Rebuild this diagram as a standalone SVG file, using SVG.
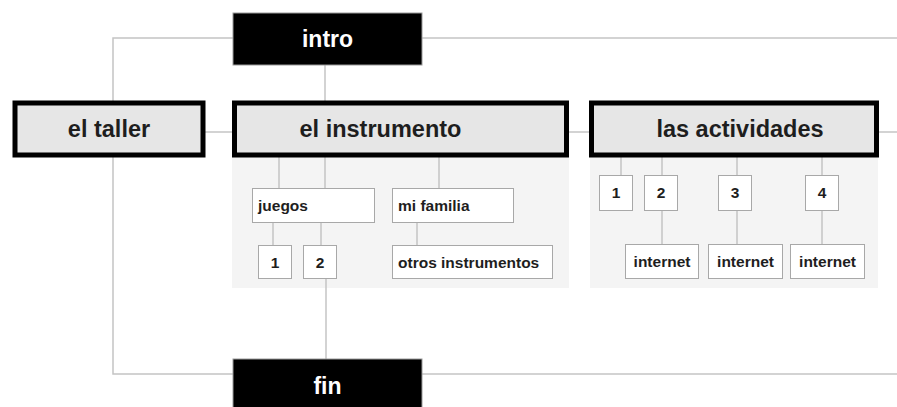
<svg xmlns="http://www.w3.org/2000/svg" width="897" height="407" viewBox="0 0 897 407">
<style>
.ln{stroke:#c4c4c4;stroke-width:1.5;fill:none}
.panel{fill:#f4f4f4}
.blk{fill:#000;stroke:#9a9a9a;stroke-width:1}
.blkt{fill:#fff;font-family:"Liberation Sans",Arial,sans-serif;font-weight:bold;font-size:23px;text-anchor:middle}
.main{fill:#e6e6e6;stroke:#000;stroke-width:5}
.maint{fill:#1e1e1e;font-family:"Liberation Sans",Arial,sans-serif;font-weight:bold;font-size:23.5px;text-anchor:middle}
.sm{fill:#fff;stroke:#a8a8a8;stroke-width:1}
.smt{fill:#1e1e1e;font-family:"Liberation Sans",Arial,sans-serif;font-weight:bold;font-size:15.5px}
.c{text-anchor:middle}
</style>
<rect width="897" height="407" fill="#fff"/>
<rect class="panel" x="232" y="157" width="337" height="131"/>
<rect class="panel" x="590" y="157" width="288" height="131"/>
<g id="connectors">
<polyline class="ln" points="233,38 113,38 113,374 233,374"/>
<line class="ln" x1="422" y1="38" x2="897" y2="38"/>
<line class="ln" x1="422" y1="374" x2="897" y2="374"/>
<line class="ln" x1="325" y1="65" x2="325" y2="101"/>
<line class="ln" x1="205" y1="132" x2="232" y2="132"/>
<line class="ln" x1="569" y1="132" x2="589" y2="132"/>
<line class="ln" x1="879" y1="132" x2="897" y2="132"/>
<line class="ln" x1="279" y1="157" x2="279" y2="188"/>
<line class="ln" x1="325" y1="157" x2="325" y2="188"/>
<line class="ln" x1="439" y1="157" x2="439" y2="188"/>
<line class="ln" x1="273" y1="223" x2="273" y2="245"/>
<line class="ln" x1="321" y1="223" x2="321" y2="245"/>
<line class="ln" x1="417" y1="223" x2="417" y2="245"/>
<line class="ln" x1="326" y1="279" x2="326" y2="359"/>
<line class="ln" x1="621" y1="157" x2="621" y2="175"/>
<line class="ln" x1="662" y1="157" x2="662" y2="175"/>
<line class="ln" x1="737" y1="157" x2="737" y2="175"/>
<line class="ln" x1="822" y1="157" x2="822" y2="175"/>
<line class="ln" x1="662" y1="211" x2="662" y2="244"/>
<line class="ln" x1="737" y1="211" x2="737" y2="244"/>
<line class="ln" x1="822" y1="211" x2="822" y2="244"/>
</g>
<g id="intro"><rect class="blk" x="233" y="13" width="189" height="52"/><text class="blkt" x="327.5" y="47">intro</text></g>
<g id="fin"><rect class="blk" x="233" y="359" width="189" height="52"/><text class="blkt" x="327.5" y="394">fin</text></g>
<g id="el-taller"><rect class="main" x="15" y="103" width="188" height="52"/><text class="maint" x="109" y="137">el taller</text></g>
<g id="el-instrumento"><rect class="main" x="234.5" y="103" width="332" height="52"/><text class="maint" x="380.5" y="137">el instrumento</text></g>
<g id="las-actividades"><rect class="main" x="591.5" y="103" width="285" height="52"/><text class="maint" x="740" y="137">las actividades</text></g>
<g id="juegos"><rect class="sm" x="252.5" y="188.5" width="122" height="34"/><text class="smt" x="258" y="211">juegos</text></g>
<g id="mi-familia"><rect class="sm" x="392.5" y="188.5" width="121" height="34"/><text class="smt" x="398" y="211">mi familia</text></g>
<g id="juegos-1"><rect class="sm" x="258.5" y="245.5" width="33" height="33"/><text class="smt c" x="275" y="268">1</text></g>
<g id="juegos-2"><rect class="sm" x="303.5" y="245.5" width="33" height="33"/><text class="smt c" x="320" y="268">2</text></g>
<g id="otros-instrumentos"><rect class="sm" x="392.5" y="245.5" width="160" height="33"/><text class="smt" x="398" y="268">otros instrumentos</text></g>
<g id="act-1"><rect class="sm" x="599.5" y="175.5" width="33" height="35"/><text class="smt c" x="616" y="198">1</text></g>
<g id="act-2"><rect class="sm" x="644.5" y="175.5" width="33" height="35"/><text class="smt c" x="661" y="198">2</text></g>
<g id="act-3"><rect class="sm" x="718.5" y="175.5" width="33" height="35"/><text class="smt c" x="735" y="198">3</text></g>
<g id="act-4"><rect class="sm" x="805.5" y="175.5" width="33" height="35"/><text class="smt c" x="822" y="198">4</text></g>
<g id="internet-1"><rect class="sm" x="625.5" y="244.5" width="73" height="34"/><text class="smt c" x="662" y="267">internet</text></g>
<g id="internet-2"><rect class="sm" x="708.5" y="244.5" width="74" height="34"/><text class="smt c" x="745.5" y="267">internet</text></g>
<g id="internet-3"><rect class="sm" x="790.5" y="244.5" width="74" height="34"/><text class="smt c" x="827.5" y="267">internet</text></g>
</svg>
